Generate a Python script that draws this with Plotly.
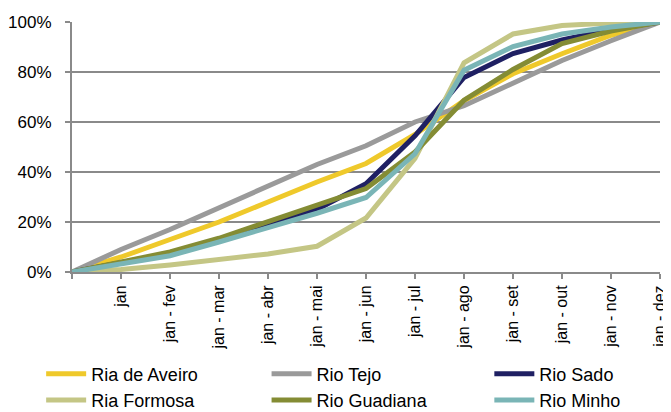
import plotly.graph_objects as go

# categories (first point is the origin, unlabeled)
months = ["", "jan", "jan - fev", "jan - mar", "jan - abr", "jan - mai", "jan - jun",
          "jan - jul", "jan - ago", "jan - set", "jan - out", "jan - nov", "jan - dez"]

ria_aveiro = [0, 6, 13, 20, 28, 36, 43.4, 55, 68.5, 79.3, 87.3, 94.7, 100]
rio_tejo = [0, 9, 17, 25.5, 34, 43, 50.5, 60, 66.5, 75.3, 84.6, 92.5, 100]
rio_sado = [0, 3.5, 7.5, 12.5, 18.5, 25, 35.3, 54.5, 77.8, 87.4, 92.8, 97, 100]
ria_formosa = [0, 1, 2.8, 5.2, 7.2, 10.3, 21.6, 45.5, 83.7, 95.2, 98.6, 99.6, 100]
rio_guadiana = [0, 4, 8, 13.5, 20, 27, 33.4, 48, 68.7, 81, 91.4, 96.4, 100]
rio_minho = [0, 3, 6.5, 12, 17.5, 23.5, 29.8, 47.3, 80.7, 90.2, 95.2, 98, 100]

# (name, values, colour, legend column)
series = [
    ("Ria de Aveiro", ria_aveiro, "#EFC92B", "legend"),
    ("Rio Tejo", rio_tejo, "#9A9A9A", "legend2"),
    ("Rio Sado", rio_sado, "#1F2063", "legend3"),
    ("Ria Formosa", ria_formosa, "#C4C685", "legend"),
    ("Rio Guadiana", rio_guadiana, "#848C34", "legend2"),
    ("Rio Minho", rio_minho, "#7AB5B6", "legend3"),
]

x_idx = list(range(len(months)))

fig = go.Figure()
for name, vals, color, leg in series:
    fig.add_trace(
        go.Scatter(
            x=x_idx,
            y=[v / 100 for v in vals],
            mode="lines",
            name=name,
            legend=leg,
            line=dict(color=color, width=5),
        )
    )

axis_grey = "#8A8A8A"


def legend_column(x):
    # one vertical legend per column of the bottom legend block
    return dict(
        orientation="v",
        xref="container",
        yref="container",
        x=x,
        xanchor="left",
        y=0.14,
        yanchor="top",
        itemwidth=40,
        tracegroupgap=0,
        bgcolor="rgba(0,0,0,0)",
        font=dict(size=18),
    )


# page body has an 8px margin, so the figure is sized to fit the window
fig.update_layout(
    width=663,
    height=404,
    margin=dict(l=64, r=11, t=14, b=140, autoexpand=False),
    paper_bgcolor="white",
    plot_bgcolor="white",
    font=dict(family="Liberation Sans, Arial, sans-serif", size=17, color="#000"),
    showlegend=True,
    legend=legend_column(0.05),
    legend2=legend_column(0.39),
    legend3=legend_column(0.726),
    xaxis=dict(
        range=[0, 12],
        tickmode="array",
        tickvals=x_idx,
        ticktext=months,
        tickangle=-90,
        tickfont=dict(size=16),
        ticks="outside",
        ticklen=5,
        tickcolor=axis_grey,
        tickwidth=2,
        showline=True,
        linecolor=axis_grey,
        linewidth=2,
        showgrid=False,
        zeroline=False,
        automargin=False,
    ),
    yaxis=dict(
        range=[0, 1],
        tickvals=[0, 0.2, 0.4, 0.6, 0.8, 1.0],
        tickformat=".0%",
        ticks="outside",
        ticklen=5,
        tickcolor=axis_grey,
        tickwidth=2,
        ticklabelstandoff=10,
        showline=True,
        linecolor=axis_grey,
        linewidth=2,
        showgrid=True,
        gridcolor=axis_grey,
        gridwidth=2,
        zeroline=False,
        automargin=False,
    ),
)

fig.write_html("out.html")
